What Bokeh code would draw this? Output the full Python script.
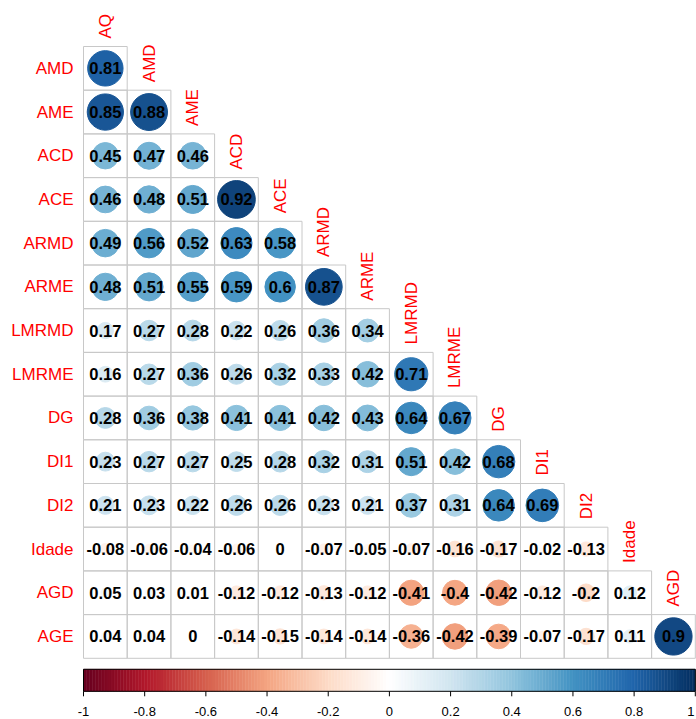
import numpy as np
from bokeh.plotting import figure
from bokeh.models import ColumnDataSource, Range1d, LinearColorMapper
from bokeh.transform import transform
from bokeh.core.properties import value
from bokeh.embed import file_html
from bokeh.resources import INLINE

# Variables (lower triangle, diagonal omitted)
variables = ["AQ", "AMD", "AME", "ACD", "ACE", "ARMD", "ARME", "LMRMD",
             "LMRME", "DG", "DI1", "DI2", "Idade", "AGD", "AGE"]
col_labels = variables[:-1]
row_labels = variables[1:]

# Correlation coefficients, one list per row (row label -> columns from AQ on)
r_AMD = [0.81]
r_AME = [0.85, 0.88]
r_ACD = [0.45, 0.47, 0.46]
r_ACE = [0.46, 0.48, 0.51, 0.92]
r_ARMD = [0.49, 0.56, 0.52, 0.63, 0.58]
r_ARME = [0.48, 0.51, 0.55, 0.59, 0.6, 0.87]
r_LMRMD = [0.17, 0.27, 0.28, 0.22, 0.26, 0.36, 0.34]
r_LMRME = [0.16, 0.27, 0.36, 0.26, 0.32, 0.33, 0.42, 0.71]
r_DG = [0.28, 0.36, 0.38, 0.41, 0.41, 0.42, 0.43, 0.64, 0.67]
r_DI1 = [0.23, 0.27, 0.27, 0.25, 0.28, 0.32, 0.31, 0.51, 0.42, 0.68]
r_DI2 = [0.21, 0.23, 0.22, 0.26, 0.26, 0.23, 0.21, 0.37, 0.31, 0.64, 0.69]
r_Idade = [-0.08, -0.06, -0.04, -0.06, 0, -0.07, -0.05, -0.07, -0.16, -0.17, -0.02, -0.13]
r_AGD = [0.05, 0.03, 0.01, -0.12, -0.12, -0.13, -0.12, -0.41, -0.4, -0.42, -0.12, -0.2, 0.12]
r_AGE = [0.04, 0.04, 0, -0.14, -0.15, -0.14, -0.14, -0.36, -0.42, -0.39, -0.07, -0.17, 0.11, 0.9]
corr_rows = [r_AMD, r_AME, r_ACD, r_ACE, r_ARMD, r_ARME, r_LMRMD, r_LMRME,
             r_DG, r_DI1, r_DI2, r_Idade, r_AGD, r_AGE]

bar_ticks = [-1, -0.8, -0.6, -0.4, -0.2, 0, 0.2, 0.4, 0.6, 0.8, 1]
bar_tick_labels = ["-1", "-0.8", "-0.6", "-0.4", "-0.2", "0", "0.2", "0.4", "0.6", "0.8", "1"]

# Diverging red-blue palette, 200 steps
anchors = ["#67001F", "#B2182B", "#D6604D", "#F4A582", "#FDDBC7", "#FFFFFF",
           "#D1E5F0", "#92C5DE", "#4393C3", "#2166AC", "#053061"]
def _rgb(h):
    return [int(h[k:k + 2], 16) for k in (1, 3, 5)]
anchor_rgb = np.array([_rgb(h) for h in anchors], dtype=float)
t_anchor = np.linspace(0, 1, len(anchors))
t_pal = np.linspace(0, 1, 200)
palette = ["#%02x%02x%02x" % tuple(int(round(np.interp(t, t_anchor, anchor_rgb[:, c]))) for c in range(3))
           for t in t_pal]
mapper = LinearColorMapper(palette=palette, low=-1, high=1)

# Page geometry (cell units; y grows downward)
W, H = 696, 719
CELL = 43.7
LEFT, TOP = 83.0, 46.0
n = len(col_labels)

p = figure(width=W, height=H, output_backend="svg", toolbar_location=None,
           x_range=Range1d(-LEFT / CELL, (W - LEFT) / CELL),
           y_range=Range1d((H - TOP) / CELL, -TOP / CELL),
           min_border=0, min_border_left=0, min_border_right=0,
           min_border_top=0, min_border_bottom=0)
p.axis.visible = False
p.grid.visible = False
p.outline_line_color = None
p.background_fill_color = "white"
p.border_fill_color = "white"

xs, ys, rs, labels, rad = [], [], [], [], []
for i, row in enumerate(corr_rows):
    for j, r in enumerate(row):
        xs.append(j + 0.5)
        ys.append(i + 0.5)
        rs.append(r)
        labels.append(("%g" % r))
        rad.append(0.45 * np.sqrt(abs(r)))
src = ColumnDataSource(dict(x=xs, y=ys, r=rs, label=labels, rad=rad))

# cell grid
p.rect(x="x", y="y", width=1, height=1, source=src, fill_color=None,
       line_color="#C8C8C8", line_width=1)
# circles sized by |r|
p.circle(x="x", y="y", radius="rad", radius_dimension="x", source=src,
         fill_color=transform("r", mapper), line_color=transform("r", mapper), line_width=1)
# coefficient text
p.text(x="x", y="y", text="label", source=src, text_align="center", text_baseline="middle",
       text_font=value("Liberation Sans"), text_font_style="bold", text_font_size="16.5px",
       text_color="black")

# row labels
p.text(x=[-10 / CELL] * len(row_labels), y=[i + 0.5 for i in range(len(row_labels))],
       text=row_labels, text_align="right", text_baseline="middle",
       text_font=value("Liberation Sans"), text_font_size="17px", text_color="#FF0000")
# column labels at the diagonal
p.text(x=[j + 0.5 for j in range(n)], y=[j - 8 / CELL for j in range(n)],
       text=col_labels, angle=np.pi / 2, text_align="left", text_baseline="middle",
       text_font=value("Liberation Sans"), text_font_size="17px", text_color="#FF0000")

# colour bar
bar_top = n + 11 / CELL
bar_bot = bar_top + 22 / CELL
def bar_x(v):
    return (np.asarray(v, dtype=float) + 1) / 2 * n
edges = np.linspace(-1, 1, len(palette) + 1)
p.quad(left=bar_x(edges[:-1]), right=bar_x(edges[1:]), top=bar_top, bottom=bar_bot,
       fill_color=palette, line_color=palette, line_width=0.5)
p.quad(left=[bar_x(-1)], right=[bar_x(1)], top=[bar_top], bottom=[bar_bot],
       fill_color=None, line_color="black", line_width=1)
tx = bar_x(bar_ticks)
p.segment(x0=tx, x1=tx, y0=[bar_bot] * len(tx), y1=[bar_bot + 5 / CELL] * len(tx),
          line_color="black", line_width=1)
# last tick label kept inside the page edge
label_x = list(tx[:-1]) + [(W - 2 - LEFT) / CELL]
aligns = ["center"] * (len(tx) - 1) + ["right"]
p.text(x=label_x, y=[bar_bot + 20 / CELL] * len(tx), text=bar_tick_labels,
       text_align=aligns, text_baseline="middle",
       text_font=value("Liberation Sans"), text_font_size="13px", text_color="black")

open("out.html", "w").write(file_html(p, INLINE))
